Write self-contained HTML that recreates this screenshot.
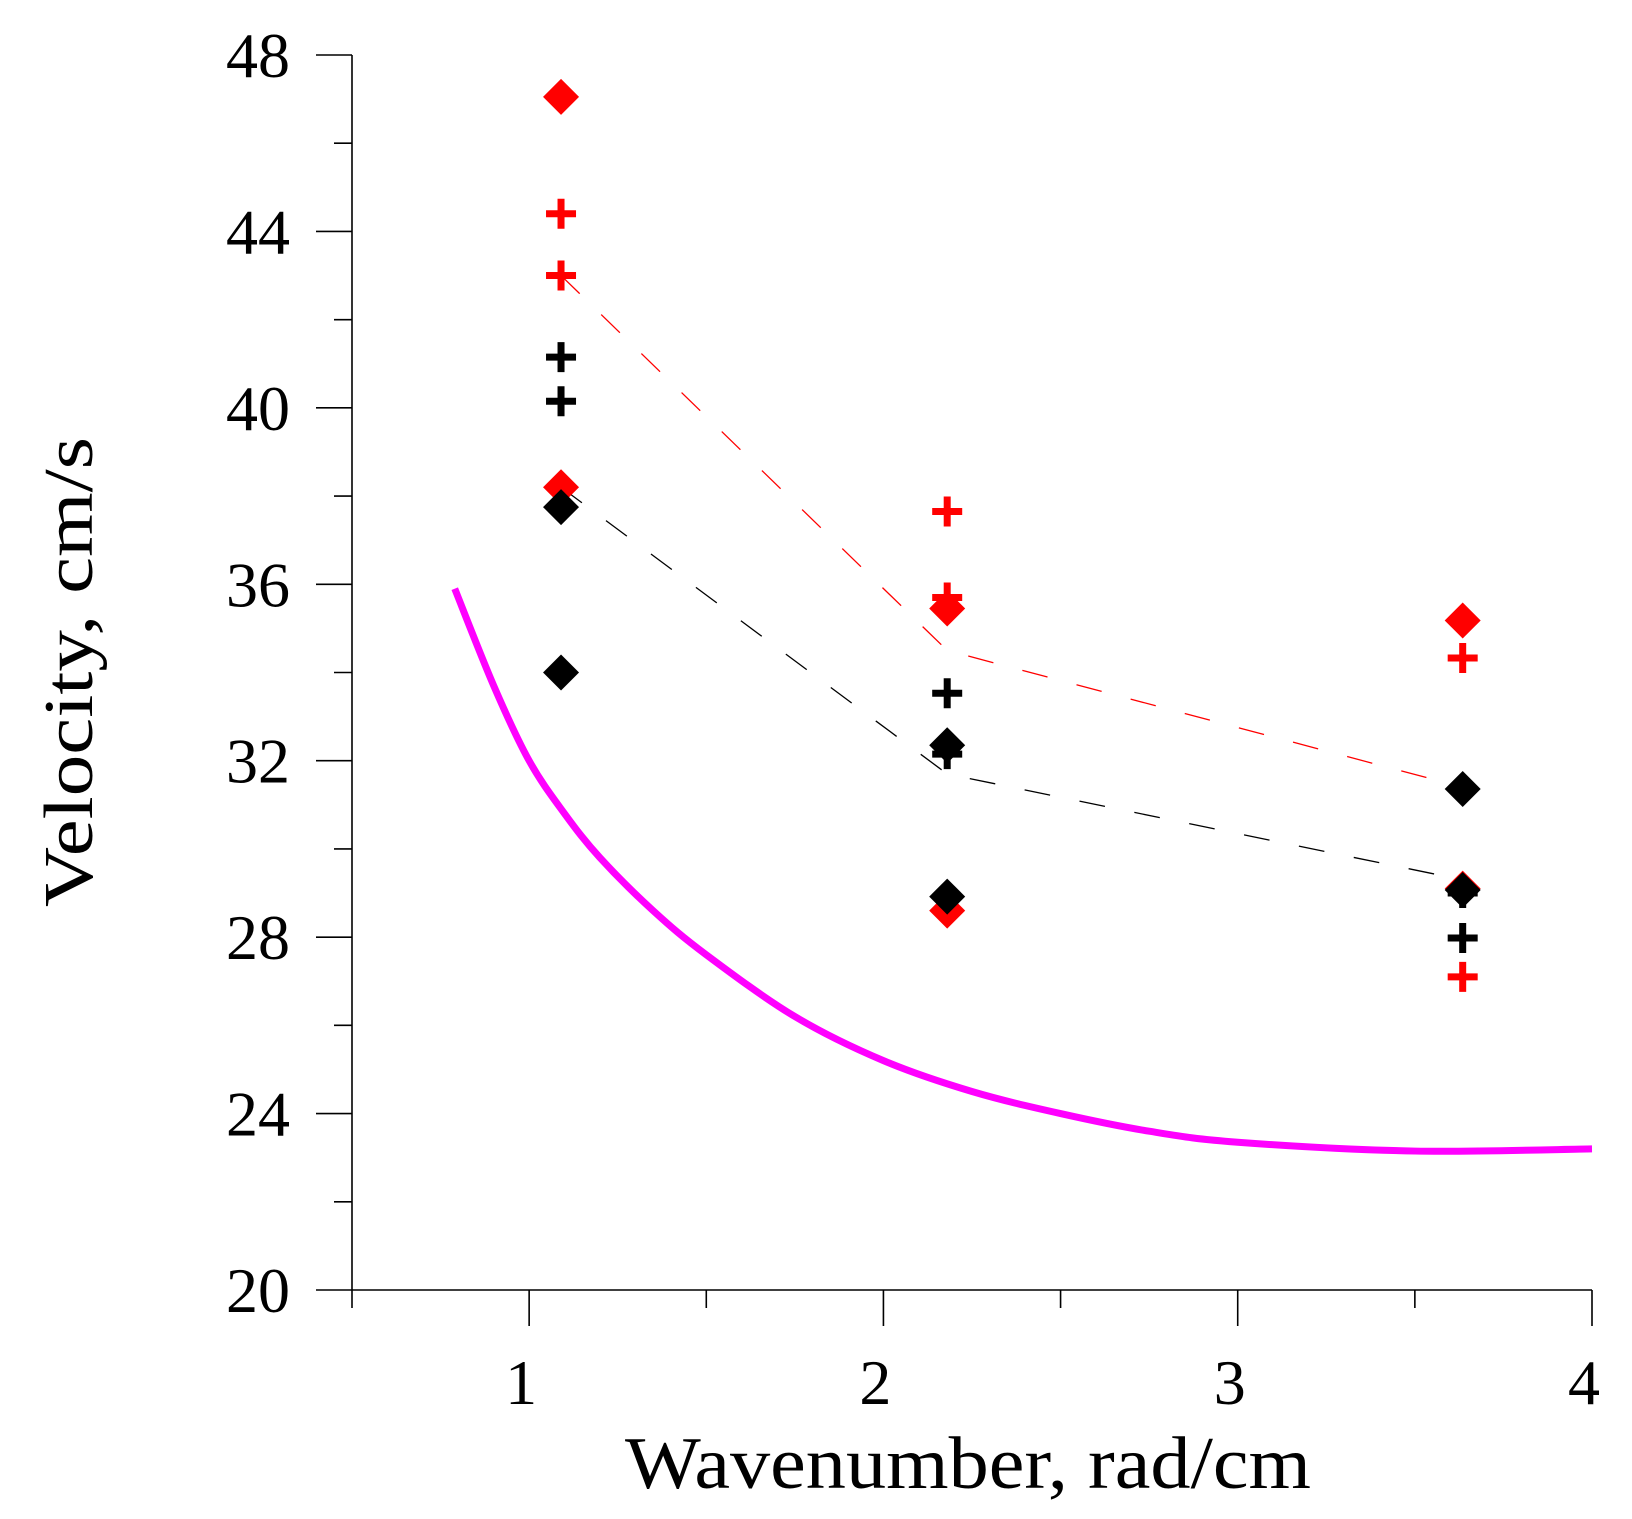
<!DOCTYPE html>
<html><head><meta charset="utf-8"><style>
html,body{margin:0;padding:0;background:#fff;}
svg{display:block;font-family:"Liberation Serif",serif;}
</style></head><body>
<svg id="chart" width="1632" height="1519" viewBox="0 0 1632 1519" xmlns="http://www.w3.org/2000/svg">
<g id="axes"></g>
<g id="series"></g>
<text x="625" y="1488" font-size="74" textLength="686" lengthAdjust="spacingAndGlyphs">Wavenumber, rad/cm</text>
<text transform="translate(92,672) rotate(-90)" text-anchor="middle" font-size="70" textLength="470" lengthAdjust="spacingAndGlyphs">Velocity, cm/s</text>
</svg>
<script>
const xTicks = [1, 2, 3, 4];
const yTicks = [20, 24, 28, 32, 36, 40, 44, 48];
const xs = [1.09, 2.18, 3.635];
const redDiamond = [47.05, 38.2, 35.45, 28.6, 35.18, 29.1];
const redDiamondX = [1.09, 1.09, 2.18, 2.18, 3.635, 3.635];
const redPlus = [44.4, 43.0, 37.65, 35.7, 34.33, 27.1];
const redPlusX = [1.09, 1.09, 2.18, 2.18, 3.635, 3.635];
const blackPlus = [41.15, 40.15, 33.53, 32.15, 27.98, 29.0];
const blackPlusX = [1.09, 1.09, 2.18, 2.18, 3.635, 3.635];
const blackDiamond = [37.75, 34.0, 32.35, 28.92, 31.36, 29.07];
const blackDiamondX = [1.09, 1.09, 2.18, 2.18, 3.635, 3.635];
const redDash = [43.0, 34.5, 31.4];
const blackDash = [38.2, 31.7, 29.3];
const curveX = [0.79, 0.9, 1.0, 1.1, 1.2, 1.35, 1.5, 1.75, 2.0, 2.25, 2.5, 2.75, 3.0, 3.5, 4.0];
const curveY = [35.9, 33.7, 32.0, 30.8, 29.8, 28.6, 27.6, 26.2, 25.2, 24.5, 24.0, 23.6, 23.35, 23.15, 23.2];

const X0 = 352, X1 = 1592, Y0 = 1290, Y1 = 55;
const xmin = 0.5, xmax = 4, ymin = 20, ymax = 48;
const sx = v => X0 + (v - xmin) / (xmax - xmin) * (X1 - X0);
const sy = v => Y0 - (v - ymin) / (ymax - ymin) * (Y0 - Y1);
const NS = "http://www.w3.org/2000/svg";
function mk(tag, attrs, parent) {
  const e = document.createElementNS(NS, tag);
  for (const k in attrs) e.setAttribute(k, attrs[k]);
  parent.appendChild(e); return e;
}
const axes = document.getElementById('axes');
const series = document.getElementById('series');
let el;
el = mk('line', {x1: X0, y1: Y1, x2: X0, y2: Y0, stroke: '#000', 'stroke-width': 1.6}, axes);


el = mk('line', {x1: X0, y1: Y0, x2: X1, y2: Y0, stroke: '#000', 'stroke-width': 1.6}, axes);


for (let v = ymin; v <= ymax + 1e-9; v += 2) {
  const major = (v % 4 === 0);
  el = mk('line', {x1: X0 - (major ? 36 : 18), y1: sy(v), x2: X0, y2: sy(v), stroke: '#000', 'stroke-width': 1.6}, axes);
  
  
}
yTicks.forEach(v => {
  el = mk('text', {x: 290, y: sy(v) + 22, 'text-anchor': 'end', 'font-size': 64}, axes);
  el.textContent = v;
  
  
});
for (let v = xmin; v <= xmax + 1e-9; v += 0.5) {
  const major = Math.abs(v - Math.round(v)) < 1e-9;
  el = mk('line', {x1: sx(v), y1: Y0, x2: sx(v), y2: Y0 + (major ? 36 : 18), stroke: '#000', 'stroke-width': 1.6}, axes);
  
  
}
xTicks.forEach(v => {
  el = mk('text', {x: sx(v) - 8, y: 1404, 'text-anchor': 'middle', 'font-size': 64}, axes);
  el.textContent = v;
  
  
});
function dashLine(vals, color, name) {
  const d = vals.map((v, i) => (i ? 'L' : 'M') + sx(xs[i]) + ' ' + sy(v)).join(' ');
  const p = mk('path', {d: d, fill: 'none', stroke: color, 'stroke-width': 1.3, 'stroke-dasharray': '26 30'}, series);
  
  
}
dashLine(redDash, '#ff0000', 'red-dashed-trend');
dashLine(blackDash, '#000', 'black-dashed-trend');
{
  const pts = curveX.map((x, i) => [sx(x), sy(curveY[i])]);
  let d = 'M' + pts[0][0] + ' ' + pts[0][1];
  for (let i = 0; i < pts.length - 1; i++) {
    const p0 = pts[Math.max(0, i - 1)], p1 = pts[i], p2 = pts[i + 1], p3 = pts[Math.min(pts.length - 1, i + 2)];
    const c1 = [p1[0] + (p2[0] - p0[0]) / 6, p1[1] + (p2[1] - p0[1]) / 6];
    const c2 = [p2[0] - (p3[0] - p1[0]) / 6, p2[1] - (p3[1] - p1[1]) / 6];
    d += ` C${c1[0]} ${c1[1]} ${c2[0]} ${c2[1]} ${p2[0]} ${p2[1]}`;
  }
  el = mk('path', {d: d, fill: 'none', stroke: '#ff00ff', 'stroke-width': 7}, series);
  
  
}
function diamonds(vals, xv, color, name) {
  vals.forEach((v, i) => {
    const cx = sx(xv[i]), cy = sy(v), r = 18;
    const p = mk('polygon', {points: `${cx},${cy - r} ${cx + r},${cy} ${cx},${cy + r} ${cx - r},${cy}`, fill: color}, series);
    
    
  });
}
function pluses(vals, xv, color, name) {
  vals.forEach((v, i) => {
    const cx = sx(xv[i]), cy = sy(v), r = 15;
    const p = mk('path', {d: `M${cx - r} ${cy} H${cx + r} M${cx} ${cy - r} V${cy + r}`, stroke: color, 'stroke-width': 7, fill: 'none'}, series);
    
    
  });
}
diamonds(redDiamond, redDiamondX, '#ff0000', 'red-diamond-point');
pluses(redPlus, redPlusX, '#ff0000', 'red-plus-point');
pluses(blackPlus, blackPlusX, '#000', 'black-plus-point');
diamonds(blackDiamond, blackDiamondX, '#000', 'black-diamond-point');
</script>
</body></html>
